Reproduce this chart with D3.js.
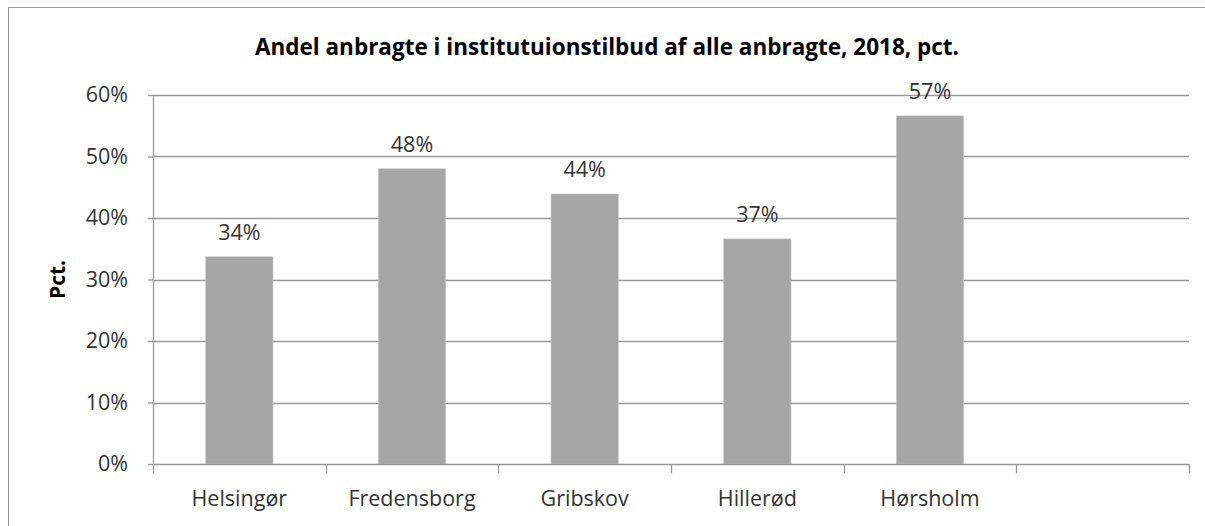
<!DOCTYPE html>
<html>
<head>
<meta charset="utf-8">
<script src="https://cdn.jsdelivr.net/npm/d3@7"></script>
<style>
	body { margin: 0; background: #fff; }
</style>
</head>
<body>
<div class="bar-chart"></div>
<script>
var categories = ['Helsingør', 'Fredensborg', 'Gribskov', 'Hillerød', 'Hørsholm', ''];
var values = [0.337, 0.480, 0.439, 0.366, 0.566, null];
var labels = ['34%', '48%', '44%', '37%', '57%', ''];
var yTicks = [0, 0.1, 0.2, 0.3, 0.4, 0.5, 0.6];
var titleText = 'Andel anbragte i institutuionstilbud af alle anbragte, 2018, pct.';
var yLabel = 'Pct.';

var barColor = '#a6a6a6',
	gridColor = '#999999',
	textColor = '#333333',
	fontFamily = 'Open Sans, Noto Sans, sans-serif',
	labelSize = '21.5px';

var width = 1205, height = 526;
var margin = {top: 95, left: 153, right: 16, bottom: 62};
var plotW = width - margin.left - margin.right;
var plotH = height - margin.top - margin.bottom;

var x = d3.scaleBand().domain(d3.range(categories.length)).range([0, plotW]).padding(0);
var y = d3.scaleLinear().domain([0, 0.6]).range([plotH, 0]);

var svg = d3.select('.bar-chart').append('svg')
	.attr('width', width)
	.attr('height', height)
	.attr('font-family', fontFamily);

// Outer chart frame (cut off on the right and bottom like the source)
svg.append('rect')
	.attr('x', 8.5).attr('y', 7.5)
	.attr('width', 1300).attr('height', 600)
	.attr('fill', 'none')
	.attr('stroke', '#9a9a9a')
	.attr('stroke-width', 1);

svg.append('text')
	.attr('x', 607)
	.attr('y', 55)
	.attr('text-anchor', 'middle')
	.attr('font-size', '22.5px')
	.attr('font-weight', 'bold')
	.attr('fill', '#000')
	.text(titleText);

var g = svg.append('g')
	.attr('transform', 'translate(' + margin.left + ',' + margin.top + ')');

// Gridlines
g.selectAll('.grid').data(yTicks.slice(1)).enter().append('line')
	.attr('x1', 0).attr('x2', plotW)
	.attr('y1', function(d) { return Math.round(y(d)) + 0.5; })
	.attr('y2', function(d) { return Math.round(y(d)) + 0.5; })
	.attr('stroke', gridColor)
	.attr('stroke-width', 1.3);

// Bars
g.selectAll('.bar').data(values).enter().filter(function(d) { return d !== null; })
	.append('rect')
	.attr('x', function(d, i) { return x(i) + x.bandwidth() * 0.305; })
	.attr('width', x.bandwidth() * 0.39)
	.attr('y', function(d) { return y(d); })
	.attr('height', function(d) { return plotH - y(d); })
	.attr('fill', barColor)
	.attr('stroke', '#c8c8c8')
	.attr('stroke-width', 0.6);

// Value labels
g.selectAll('.val').data(labels).enter().append('text')
	.attr('x', function(d, i) { return x(i) + x.bandwidth() / 2; })
	.attr('y', function(d, i) { return values[i] === null ? 0 : y(values[i]) - 17; })
	.attr('text-anchor', 'middle')
	.attr('font-size', labelSize)
	.attr('fill', textColor)
	.text(function(d) { return d; });

// Y axis
var yAxis = g.append('g')
	.call(d3.axisLeft(y).tickValues(yTicks).tickSize(5).tickPadding(20)
		.tickFormat(d3.format('.0%')));
yAxis.select('.domain').attr('stroke', gridColor).attr('stroke-width', 1.3)
	.attr('d', 'M0.5,0V' + plotH);
yAxis.selectAll('.tick line').attr('stroke', gridColor).attr('stroke-width', 1.3);
yAxis.selectAll('text').attr('font-size', labelSize).attr('fill', textColor)
	.attr('font-family', fontFamily);

// X axis
var xEdges = d3.range(categories.length + 1).map(function(i) {
	return i < categories.length ? x(i) : plotW;
});
var xAxis = g.append('g').attr('transform', 'translate(0,' + plotH + ')');
xAxis.append('line')
	.attr('x1', 0).attr('x2', plotW)
	.attr('y1', 0.5).attr('y2', 0.5)
	.attr('stroke', gridColor).attr('stroke-width', 1.3);
xAxis.selectAll('.xtick').data(xEdges).enter().append('line')
	.attr('x1', function(d) { return Math.round(d) + 0.5; })
	.attr('x2', function(d) { return Math.round(d) + 0.5; })
	.attr('y1', 0).attr('y2', 9)
	.attr('stroke', gridColor).attr('stroke-width', 1.3);
xAxis.selectAll('.xlabel').data(categories).enter().append('text')
	.attr('x', function(d, i) { return x(i) + x.bandwidth() / 2; })
	.attr('y', 42)
	.attr('text-anchor', 'middle')
	.attr('font-size', labelSize)
	.attr('fill', textColor)
	.text(function(d) { return d; });

// Y axis title
svg.append('text')
	.attr('transform', 'translate(65,' + (margin.top + plotH / 2) + ') rotate(-90)')
	.attr('text-anchor', 'middle')
	.attr('font-size', '21px')
	.attr('font-weight', 'bold')
	.attr('fill', '#000')
	.text(yLabel);
</script>
</body>
</html>
